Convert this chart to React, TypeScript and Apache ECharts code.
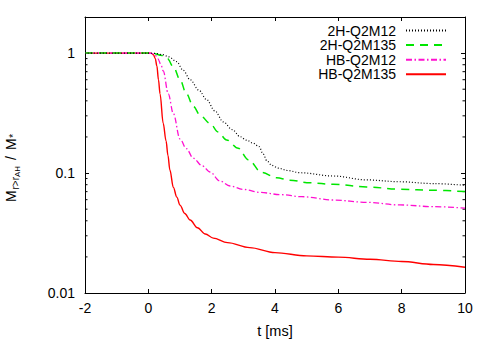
import React, { useEffect, useRef } from "react";
import * as echarts from "echarts";

const FONT = "'Liberation Sans', Arial, Helvetica, sans-serif";

const seriesNames = ["2H-Q2M12", "2H-Q2M135", "HB-Q2M12", "HB-Q2M135"];
const seriesColors = ["#000000", "#00e600", "#ff10d0", "#ff0000"];

const tBlack = [-2, 0, 0.2, 0.45, 0.65, 0.89, 1.1, 1.32, 1.6, 1.84, 2.1, 2.37, 2.65, 2.9, 3.1, 3.32, 3.5, 3.62, 3.75, 3.9, 4.1, 4.4, 4.79, 5.84, 6.89, 7.95, 9, 10];
const vBlack = [1, 1, 0.995, 0.97, 0.93, 0.85, 0.72, 0.6, 0.49, 0.41, 0.33, 0.267, 0.23, 0.201, 0.188, 0.177, 0.166, 0.145, 0.126, 0.116, 0.11, 0.105, 0.1006, 0.0945, 0.0877, 0.0846, 0.0817, 0.079];

const tGreen = [-2, 0, 0.2, 0.4, 0.6, 0.8, 1.0, 1.2, 1.42, 1.65, 1.95, 2.2, 2.47, 2.84, 3.16, 3.58, 4.05, 4.47, 5.1, 5.84, 6.89, 7.95, 9, 10];
const vGreen = [1, 1, 0.99, 0.96, 0.9, 0.76, 0.6, 0.46, 0.36, 0.3, 0.259, 0.22, 0.189, 0.161, 0.129, 0.101, 0.0915, 0.087, 0.083, 0.0806, 0.0766, 0.0733, 0.0718, 0.0701];

const tMagenta = [-2, 0, 0.1, 0.21, 0.3, 0.4, 0.47, 0.63, 0.79, 1.0, 1.2, 1.42, 1.7, 1.95, 2.26, 2.58, 3.0, 3.53, 4.2, 4.85, 5.84, 6.89, 7.95, 9.0, 10];
const vMagenta = [1, 1, 0.995, 0.97, 0.9, 0.8, 0.71, 0.457, 0.313, 0.192, 0.16, 0.133, 0.115, 0.102, 0.0859, 0.078, 0.073, 0.0689, 0.066, 0.0635, 0.0596, 0.057, 0.0542, 0.0525, 0.051];

const tRed = [-2, 0, 0.1, 0.16, 0.22, 0.27, 0.32, 0.37, 0.47, 0.56, 0.62, 0.68, 0.79, 0.9, 1.0, 1.15, 1.32, 1.55, 1.8, 2.05, 2.5, 3.2, 4, 5, 6, 7, 8, 9, 10];
const vRed = [1, 1, 0.995, 0.97, 0.9, 0.78, 0.6, 0.457, 0.259, 0.185, 0.14, 0.106, 0.076, 0.063, 0.054, 0.046, 0.0406, 0.035, 0.031, 0.0287, 0.0263, 0.0239, 0.0217, 0.0204, 0.0199, 0.0191, 0.0183, 0.0173, 0.0164];

const xTicks = [-2, 0, 2, 4, 6, 8, 10];
const yTickLabels = ["0.01", "0.1", "1"];
const minorTickValues = [0.02, 0.03, 0.04, 0.05, 0.06, 0.07, 0.08, 0.09, 0.2, 0.3, 0.4, 0.5, 0.6, 0.7, 0.8, 0.9];

const zip = (t: number[], v: number[]) => t.map((x, i) => [x, v[i]]);

export default function App() {
  const ref = useRef<HTMLDivElement>(null);
  useEffect(() => {
    if (!ref.current) return;
    const chart = echarts.init(ref.current, null, { renderer: "svg" });
    const lineDefs = [
      { data: zip(tBlack, vBlack), type: [1, 2], width: 1.2 },
      { data: zip(tGreen, vGreen), type: [8, 6], width: 1.5 },
      { data: zip(tMagenta, vMagenta), type: [6, 2.5, 1.5, 2.5], width: 1.3 },
      { data: zip(tRed, vRed), type: "solid", width: 1.4 },
    ];
    const xMin = xTicks[0];
    const xMax = xTicks[xTicks.length - 1];
    const axisLineStyle = { color: "#000", width: 1 };
    const option: any = {
      animation: false,
      grid: { left: 85, right: 26, top: 17, bottom: 46 },
      xAxis: [
        {
          type: "value",
          min: xMin,
          max: xMax,
          interval: 2,
          position: "bottom",
          name: "t [ms]",
          nameLocation: "middle",
          nameGap: 30,
          nameTextStyle: { fontSize: 14.5, fontFamily: FONT, color: "#000" },
          axisLine: { show: true, onZero: false, lineStyle: axisLineStyle },
          axisTick: { show: true, inside: true, length: 4, lineStyle: axisLineStyle },
          axisLabel: { fontSize: 14, fontFamily: FONT, color: "#000", margin: 8 },
          splitLine: { show: false },
        },
        {
          type: "value",
          min: xMin,
          max: xMax,
          interval: 2,
          position: "top",
          axisLine: { show: true, onZero: false, lineStyle: axisLineStyle },
          axisTick: { show: true, inside: true, length: 4, lineStyle: axisLineStyle },
          axisLabel: { show: false },
          splitLine: { show: false },
        },
      ],
      yAxis: [
        {
          type: "log",
          logBase: 10,
          min: 0.01,
          max: 2,
          position: "left",
          axisLine: { show: true, onZero: false, lineStyle: axisLineStyle },
          axisTick: { show: true, inside: true, length: 4, lineStyle: axisLineStyle },
          axisLabel: {
            fontSize: 14,
            fontFamily: FONT,
            color: "#000",
            margin: 10,
            showMaxLabel: false,
            formatter: (v: number) => {
              const s = yTickLabels.find((l) => Math.abs(parseFloat(l) - v) < v * 1e-6);
              return s ?? "";
            },
          },
          splitLine: { show: false },
        },
        {
          type: "log",
          logBase: 10,
          min: 0.01,
          max: 2,
          position: "right",
          axisLine: { show: true, onZero: false, lineStyle: axisLineStyle },
          axisTick: { show: true, inside: true, length: 4, lineStyle: axisLineStyle },
          axisLabel: { show: false },
          splitLine: { show: false },
        },
      ],
      legend: seriesNames.map((name, i) => ({
        data: [name],
        orient: "vertical",
        align: "right",
        right: 44,
        top: 23.5 + i * 14.6,
        padding: 0,
        itemWidth: 40,
        itemHeight: 10,
        selectedMode: false,
        itemStyle: { opacity: 0, color: "transparent", borderWidth: 0 },
        textStyle: { fontSize: 14, lineHeight: 13, fontFamily: FONT, color: "#000", padding: [0, 5, 0, 0] },
      })),
      series: [
        ...lineDefs.map((d, i) => ({
          name: seriesNames[i],
          type: "line",
          data: d.data,
          symbol: "none",
          smooth: 0.35,
          smoothMonotone: "x",
          color: seriesColors[i],
          lineStyle: { color: seriesColors[i], width: d.width, type: d.type },
          z: 10 - i,
        })),
        {
          type: "custom",
          silent: true,
          data: minorTickValues.map((v) => [xMin, v]),
          renderItem: (_params: any, api: any) => {
            const v = api.value(1);
            const pl = api.coord([xMin, v]);
            const pr = api.coord([xMax, v]);
            return {
              type: "group",
              children: [
                { type: "line", shape: { x1: pl[0], y1: pl[1], x2: pl[0] + 2.5, y2: pl[1] }, style: { stroke: "#000", lineWidth: 1 } },
                { type: "line", shape: { x1: pr[0], y1: pr[1], x2: pr[0] - 2.5, y2: pr[1] }, style: { stroke: "#000", lineWidth: 1 } },
              ],
            };
          },
          z: 1,
        },
      ],
      graphic: [
        {
          type: "group",
          x: 16,
          y: 202,
          rotation: Math.PI / 2,
          children: [
            { type: "text", x: 0, y: -4.9, style: { text: "M", fontSize: 14, fontFamily: FONT, fill: "#000", verticalAlign: "middle" } },
            { type: "text", x: 12.5, y: -0.5, style: { text: "r>r", fontSize: 10, fontFamily: FONT, fill: "#000", verticalAlign: "middle" } },
            { type: "text", x: 25, y: 1.7, style: { text: "AH", fontSize: 8, fontFamily: FONT, fill: "#000", verticalAlign: "middle" } },
            { type: "text", x: 42, y: -4.9, style: { text: "/", fontSize: 14, fontFamily: FONT, fill: "#000", verticalAlign: "middle" } },
            { type: "text", x: 52, y: -4.9, style: { text: "M", fontSize: 14, fontFamily: FONT, fill: "#000", verticalAlign: "middle" } },
            { type: "text", x: 64, y: -2.85, style: { text: "*", fontSize: 11, fontFamily: FONT, fill: "#000", verticalAlign: "middle" } },
          ],
        },
      ],
    };
    chart.setOption(option);
    return () => chart.dispose();
  }, []);
  return <div ref={ref} style={{ position: "absolute", left: 0, top: 0, width: 491, height: 343, background: "#fff" }} />;
}
